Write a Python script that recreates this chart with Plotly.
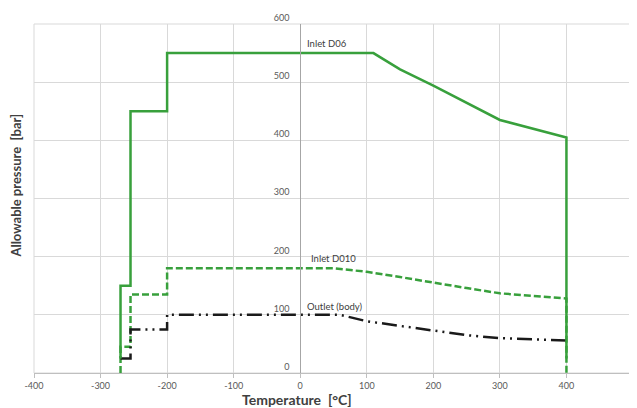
import plotly.graph_objects as go

# Data
d06_t = [-270, -270, -255, -255, -200, -200, 110, 150, 200, 250, 300, 400, 400]
d06_p = [25, 150, 150, 450, 450, 550, 550, 522, 494, 464, 435, 405, 25]

d010_t = [-270, -270, -255, -255, -200, -200, 50, 100, 150, 200, 250, 300, 400, 400]
d010_p = [0, 45, 45, 135, 135, 180, 180, 174, 165, 155, 146, 137, 128, 0]

out_t = [-270, -255, -255, -200, -200, 60, 100, 150, 200, 250, 300, 350, 400]
out_p = [25, 25, 75, 75, 100, 100, 89, 81, 73, 65, 60, 58, 56]

x_ticks = [-400, -300, -200, -100, 0, 100, 200, 300, 400, 500]
y_ticks = [0, 100, 200, 300, 400, 500, 600]

GREEN = "#38a03c"
GRID = "#d9d9d9"
TXT = "#595959"
FONT = "Lato, 'Open Sans', sans-serif"

fig = go.Figure()
fig.add_trace(go.Scatter(x=d010_t, y=d010_p, mode="lines",
                         line=dict(color=GREEN, width=2.5, dash="7px,3px"), hoverinfo="skip"))
fig.add_trace(go.Scatter(x=out_t, y=out_p, mode="lines",
                         line=dict(color="#1a1a1a", width=2.5, dash="15px,5px,2px,5px,2px,5px"), hoverinfo="skip"))
fig.add_trace(go.Scatter(x=d06_t, y=d06_p, mode="lines",
                         line=dict(color=GREEN, width=2.5), hoverinfo="skip"))

fig.update_layout(
    width=629, height=400,
    margin=dict(l=26, r=4, t=13, b=35),
    paper_bgcolor="white", plot_bgcolor="white",
    showlegend=False,
    font=dict(family=FONT, color=TXT, size=9),
    xaxis=dict(range=[-400, 500], tickvals=x_ticks, ticktext=[str(v) for v in x_ticks],
               showgrid=True, gridcolor=GRID, gridwidth=1, zeroline=False,
               showline=True, linecolor="#bfbfbf", linewidth=1,
               ticks="outside", ticklen=4, tickcolor="#bfbfbf",
               tickfont=dict(size=9, color=TXT, family=FONT)),
    yaxis=dict(range=[0, 600], tickvals=y_ticks, ticktext=[str(v) for v in y_ticks],
               showgrid=True, gridcolor=GRID, gridwidth=1, zeroline=False,
               anchor="free", position=4/9, showline=True, linecolor="#a6a6a6", linewidth=1,
               ticks="", ticklabelposition="outside top", ticklabelstandoff=9,
               tickfont=dict(size=9, color=TXT, family=FONT)),
    shapes=[dict(type="rect", xref="paper", yref="paper", x0=0, x1=1, y0=0, y1=1,
                 line=dict(color=GRID, width=1), layer="below")],
    annotations=[
        dict(text="Inlet D06", x=7, y=567, xref="x", yref="y", xanchor="left", yanchor="middle",
             showarrow=False, font=dict(size=9.5, color="#404040", family=FONT)),
        dict(text="Inlet D010", x=13, y=196, xref="x", yref="y", xanchor="left", yanchor="middle",
             showarrow=False, font=dict(size=9.5, color="#404040", family=FONT)),
        dict(text="Outlet (body)", x=7, y=115, xref="x", yref="y", xanchor="left", yanchor="middle",
             showarrow=False, font=dict(size=9.5, color="#404040", family=FONT)),
        dict(text="<b>Allowable pressure  [bar]</b>", x=-0.030, y=0.537, xref="paper", yref="paper",
             textangle=-90, xanchor="center", yanchor="middle", showarrow=False,
             font=dict(size=13, color="#404040", family=FONT)),
        dict(text="<b>Temperature  [°C]</b>", x=(297 - 34) / 599, y=-0.077, xref="paper", yref="paper",
             xanchor="center", yanchor="middle", showarrow=False,
             font=dict(size=14, color="#404040", family=FONT)),
    ],
)

fig.write_html("out.html")
